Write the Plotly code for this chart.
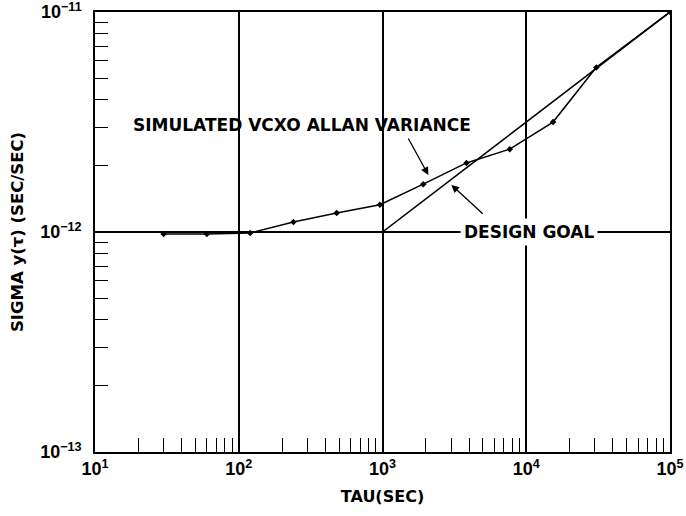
import plotly.graph_objects as go

# ---- data ----
tau_sim = [30, 60, 120, 240, 480, 960, 1920, 3840, 7680, 15360, 30720, 100000]
sigma_sim = [0.98e-12, 0.98e-12, 0.99e-12, 1.11e-12, 1.22e-12, 1.33e-12, 1.65e-12,
             2.06e-12, 2.38e-12, 3.16e-12, 5.6e-12, 1.0e-11]
tau_goal = [10, 1000, 100000]
sigma_goal = [1e-12, 1e-12, 1e-11]

x_decades = [10, 100, 1000, 10000, 100000]
x_labels = ["10<sup>1</sup>", "10<sup>2</sup>", "10<sup>3</sup>", "10<sup>4</sup>", "10<sup>5</sup>"]
y_decades = [1e-13, 1e-12, 1e-11]
y_labels = ["10<sup>−13</sup>", "10<sup>−12</sup>", "10<sup>−11</sup>"]

x_minor = [m * d for d in [10, 100, 1000, 10000] for m in range(2, 10)]
y_minor = [m * d for d in [1e-13, 1e-12] for m in range(2, 10)]

TICKFONT = "Liberation Sans"
FONT = "DejaVu Sans"

fig = go.Figure()
fig.add_trace(go.Scatter(x=tau_goal, y=sigma_goal, mode="lines",
                         line=dict(color="black", width=1.5), showlegend=False))
fig.add_trace(go.Scatter(x=tau_sim, y=sigma_sim, mode="lines+markers",
                         line=dict(color="black", width=1.5),
                         marker=dict(color="black", size=5, symbol="diamond"),
                         showlegend=False))

fig.update_xaxes(type="log", range=[1, 5], tickmode="array", tickvals=x_decades, ticktext=x_labels,
                 showgrid=True, gridcolor="black", gridwidth=1.5, ticks="", automargin=False,
                 ticklabeloverflow="allow",
                 showline=True, linecolor="black", linewidth=1.5, mirror=True, zeroline=False,
                 tickfont=dict(family=TICKFONT, size=18, color="black", weight="bold"),
                 title=dict(text="TAU(SEC)", font=dict(family=FONT, size=16, color="black", weight="bold"),
                            standoff=12),
                 minor=dict(tickmode="array", tickvals=x_minor, ticks="inside", ticklen=14,
                            tickcolor="black", tickwidth=1.2, showgrid=False))
fig.update_yaxes(type="log", range=[-13, -11], tickmode="array", tickvals=y_decades, ticktext=y_labels,
                 showgrid=True, gridcolor="black", gridwidth=1.5, ticks="", automargin=False,
                 ticklabelstandoff=8, ticklabeloverflow="allow",
                 showline=True, linecolor="black", linewidth=1.5, mirror=True, zeroline=False,
                 tickfont=dict(family=TICKFONT, size=18, color="black", weight="bold"),
                 title=dict(text="SIGMA y(τ) (SEC/SEC)", font=dict(family=FONT, size=16.5, color="black", weight="bold"),
                            standoff=12),
                 minor=dict(tickmode="array", tickvals=y_minor, ticks="inside", ticklen=13,
                            tickcolor="black", tickwidth=1.2, showgrid=False))

fig.add_annotation(x=4.02, y=-12, text="DESIGN GOAL", showarrow=False, bgcolor="white",
                   font=dict(family=FONT, size=17, color="black", weight="bold"), borderpad=3)
fig.add_annotation(x=2.44, y=-11.514, text="SIMULATED VCXO ALLAN VARIANCE", showarrow=False,
                   font=dict(family=FONT, size=17, color="black", weight="bold"))
fig.add_annotation(x=3.319, y=-11.741, ax=3.174, ay=-11.568, axref="x", ayref="y",
                   text="", showarrow=True, arrowhead=2, arrowsize=1.2, arrowwidth=1.3, arrowcolor="black")
fig.add_annotation(x=3.479, y=-11.786, ax=3.708, ay=-11.923, axref="x", ayref="y",
                   text="", showarrow=True, arrowhead=2, arrowsize=1.2, arrowwidth=1.3, arrowcolor="black")

fig.update_layout(width=686, height=516, margin=dict(l=95, r=16, t=12, b=64),
                  plot_bgcolor="white", paper_bgcolor="white")

fig.write_html("out.html")
